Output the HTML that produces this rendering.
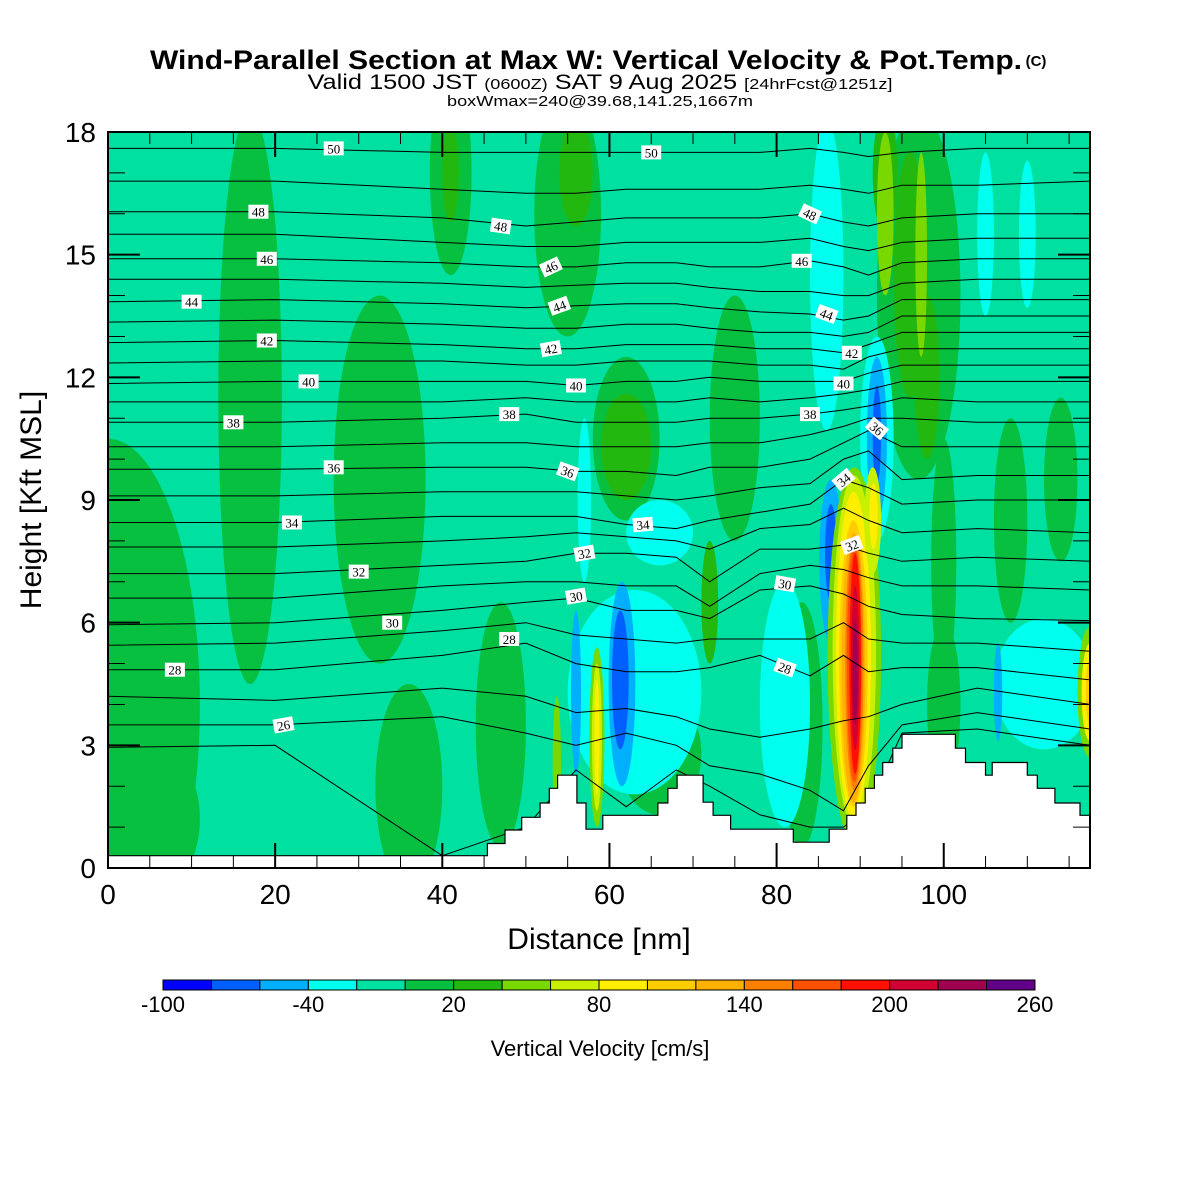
<!DOCTYPE html>
<html><head><meta charset="utf-8"><style>
body{margin:0;background:#fff}
svg{display:block;font-family:"Liberation Sans",sans-serif}
</style></head><body>
<svg id="chart" width="1200" height="1200" viewBox="0 0 1200 1200" xmlns="http://www.w3.org/2000/svg">
<rect width="1200" height="1200" fill="#fff"/>
<text x="586" y="69" text-anchor="middle" font-size="27" font-weight="bold" textLength="872" lengthAdjust="spacingAndGlyphs">Wind-Parallel Section at Max W: Vertical Velocity &amp; Pot.Temp.</text>
<text x="1036" y="66" text-anchor="middle" font-size="15" font-weight="bold">(C)</text>
<text x="600" y="89" text-anchor="middle" font-size="21" textLength="585" lengthAdjust="spacingAndGlyphs">Valid 1500 JST <tspan font-size="15">(0600Z)</tspan> SAT 9 Aug 2025 <tspan font-size="15">[24hrFcst@1251z]</tspan></text>
<text x="600" y="106" text-anchor="middle" font-size="15" textLength="306" lengthAdjust="spacingAndGlyphs">boxWmax=240@39.68,141.25,1667m</text>
<defs><clipPath id="plotclip"><rect x="108" y="132" width="982" height="736"/></clipPath></defs>
<g id="field" clip-path="url(#plotclip)"></g>
<g id="isentropes" clip-path="url(#plotclip)"></g>
<g id="terrain" clip-path="url(#plotclip)"></g>
<g id="labels" clip-path="url(#plotclip)"></g>
<g id="axes"></g>
<g id="colorbar"></g>
<text x="599" y="949" text-anchor="middle" font-size="30">Distance [nm]</text>
<text transform="translate(41,500) rotate(-90)" text-anchor="middle" font-size="30">Height [Kft MSL]</text>
<text x="600" y="1056" text-anchor="middle" font-size="22">Vertical Velocity [cm/s]</text>
</svg>
<script>
// ---- data ----
const xTicks=[0,20,40,60,80,100];
const yTicks=[0,3,6,9,12,15,18];
const cbLevels=[-100,-80,-60,-40,-20,0,20,40,60,80,100,120,140,160,180,200,220,240,260];
const cbLabels=[-100,-40,20,80,140,200,260];
const cbColors=["#0000ff","#0060ff","#00b0ff","#00ffee","#00e0a0","#08c040","#22b810","#78d800","#c8f000","#ffee00","#ffcc00","#ffb000","#ff8000","#ff5000","#ff1000","#d00030","#a00050","#600088"];
// velocity features: centre distance (nm), centre height (kft), half-width (nm), half-height (kft), w (cm/s)
const blobD=[0,4,36,17,32.5,41,55,62,47,100,108,114,97,75,66,83,100, 56,62,72,96,93,41,98, 86,92,63,81,112,57,105,110,66, 61.5,86.5,92,56,106.5, 61.3,86.5,92, 89.3,89.3,89.2,89.2,89.2,89.3,89.3,89.4,89.4,89.4, 91.5,91.6, 58.5,58.5,58.5,53.7, 117.5,117.5,117.5, 93,97.3];
const blobH=[4,1.2,2,11.5,9.5,17,16,10.5,3.5,7.5,8.5,9.5,14,11,2.8,3.5,4, 17,10.3,6.5,14.5,17,17,12, 14.5,10.5,4.3,4,4.5,9,15.5,15.5,8.2, 4.5,7.5,10.5,4.3,4.3, 4.6,7.7,10.6, 5.2,5.3,5.2,5.0,4.9,5.0,5.0,5.0,4.9,4.8, 8.5,8.6, 3.2,3.2,3.2,2.6, 4.3,4.3,4.3, 16,15];
const blobRx=[11,7,4,3.8,5.5,2.5,4,4,3,1.5,2,2,5,3,5,2.5,2, 2,3,1,2,1.5,1,1.5, 2,2,8,3,6,0.8,1,1,4, 1.6,1.4,1.2,0.6,0.5, 1,0.7,0.5, 3.2,2.6,2.1,1.7,1.4,1.1,0.9,0.7,0.5,0.3, 1,0.5, 0.9,0.6,0.3,0.5, 1.5,1,0.5, 1,0.7];
const blobRy=[6.5,2,2.5,7,4.5,2.5,3,2,3,3,2.5,2,4.5,3,1.5,3,2, 1.3,1.3,1.5,3,1.5,1.2,2, 3.8,2.5,2.5,3,1.6,2,2,1.8,0.8, 2.5,2,2,2,1.2, 1.7,1.2,1.2, 4.6,4.3,4.0,3.5,3.3,3.1,2.9,2.7,2.0,1.3, 1.3,0.8, 2.2,1.8,1.4,1.6, 1.6,1.2,0.8, 2,2.5];
const blobW=[10,10,10,10,10,10,10,10,10,10,10,10,10,10,10,10,10, 30,30,30,30,30,30,30, -30,-30,-30,-30,-30,-30,-30,-30,-30, -50,-50,-50,-50,-50, -70,-70,-70, 50,70,90,110,130,150,170,190,210,230, 70,90, 50,70,90,50, 50,90,110, 50,50];
// terrain steps: start distance (nm), height (kft)
const terrD=[0,45.4,47.5,49.5,51.7,52.8,53.8,56.1,57.2,59.2,65.8,67.0,68.1,71.2,72.4,74.5,82.0,86.3,88.4,89.5,90.6,91.7,92.7,93.9,95.0,101.4,102.6,105.0,105.8,110.0,111.2,113.3,116.3];
const terrH=[0.3,0.6,0.93,1.24,1.59,1.95,2.27,1.59,0.95,1.29,1.59,1.95,2.27,1.61,1.29,0.95,0.63,0.95,1.29,1.59,1.95,2.27,2.58,2.93,3.27,2.93,2.58,2.27,2.58,2.27,1.95,1.59,1.29];
// potential temperature lines: heights (kft) at thetaNodes
const thetaNodes=[0,20,40,50,56,62,68,72,78,84,88,91,95,104,117.5];
const thetaLevels=[25,26,27,28,29,30,31,32,33,34,35,36,37,38,39,40,41,42,43,44,45,46,47,48,49,50];
const th25=[2.95,3.0,0.3,1.0,2.4,1.5,2.4,2.0,1.3,1.0,1.0,1.5,3.3,3.4,3.0];
const th26=[3.5,3.5,3.7,3.3,3.0,3.3,3.0,2.5,2.3,1.9,1.4,2.5,3.5,3.8,3.4];
const th27=[4.2,4.1,4.4,4.2,3.8,3.9,3.7,3.4,3.2,3.4,3.6,3.7,4.0,4.4,4.0];
const th28=[4.85,4.85,5.2,5.5,5.0,4.8,4.8,4.9,5.2,4.7,5.2,4.8,4.9,4.9,4.6];
const th29=[5.45,5.5,5.8,6.0,5.7,5.6,5.5,5.6,5.6,5.6,6.0,5.6,5.5,5.5,5.3];
const th30=[5.95,6.0,6.3,6.5,6.6,6.3,6.3,6.1,6.8,6.9,6.7,6.4,6.2,6.1,6.05];
const th31=[6.6,6.6,6.9,7.0,7.0,6.9,6.9,6.4,7.2,7.4,7.3,7.1,6.9,6.9,6.8];
const th32=[7.2,7.2,7.4,7.5,7.7,7.7,7.6,7.0,7.8,7.8,7.9,7.7,7.5,7.6,7.5];
const th33=[7.85,7.85,8.0,8.1,8.2,8.1,8.0,7.8,8.3,8.4,8.8,8.5,8.2,8.3,8.2];
const th34=[8.45,8.45,8.6,8.6,8.6,8.4,8.3,8.5,8.7,8.9,9.5,9.3,8.9,9.0,9.0];
const th35=[9.1,9.1,9.2,9.2,9.2,9.1,9.0,9.1,9.3,9.4,10.0,10.2,9.5,9.6,9.6];
const th36=[9.75,9.75,9.8,9.8,9.7,9.7,9.6,9.8,9.8,10.0,10.4,10.7,10.3,10.3,10.3];
const th37=[10.3,10.3,10.4,10.4,10.3,10.3,10.3,10.4,10.4,10.6,10.8,11.0,11.0,10.9,10.9];
const th38=[10.9,10.9,11.0,11.1,10.9,10.9,10.9,11.0,11.0,11.1,11.2,11.3,11.5,11.4,11.4];
const th39=[11.4,11.4,11.4,11.5,11.4,11.4,11.4,11.5,11.4,11.5,11.6,11.7,11.9,11.9,11.9];
const th40=[11.85,11.9,11.9,11.9,11.8,11.9,11.9,12.0,11.9,11.9,11.9,12.1,12.3,12.3,12.3];
const th41=[12.35,12.4,12.4,12.3,12.3,12.4,12.4,12.4,12.3,12.3,12.2,12.5,12.7,12.7,12.7];
const th42=[12.85,12.9,12.8,12.7,12.7,12.8,12.8,12.8,12.7,12.7,12.6,12.8,13.1,13.1,13.1];
const th43=[13.35,13.4,13.3,13.2,13.2,13.3,13.3,13.2,13.1,13.1,13.0,13.1,13.5,13.5,13.5];
const th44=[13.85,13.9,13.8,13.7,13.75,13.8,13.8,13.7,13.6,13.55,13.4,13.5,13.9,13.9,13.9];
const th45=[14.4,14.4,14.3,14.2,14.25,14.3,14.3,14.2,14.1,14.1,14.0,14.0,14.3,14.4,14.4];
const th46=[14.9,14.9,14.8,14.7,14.7,14.8,14.8,14.7,14.7,14.85,14.7,14.5,14.8,14.9,14.9];
const th47=[15.5,15.5,15.3,15.2,15.2,15.3,15.3,15.3,15.3,15.4,15.2,15.1,15.3,15.4,15.4];
const th48=[16.05,16.05,15.9,15.7,15.8,15.9,15.9,15.9,15.9,16.0,15.8,15.7,15.9,16.0,16.0];
const th49=[16.8,16.8,16.6,16.5,16.5,16.6,16.6,16.6,16.6,16.7,16.6,16.5,16.7,16.7,16.8];
const th50=[17.6,17.6,17.5,17.5,17.5,17.5,17.5,17.5,17.5,17.6,17.5,17.4,17.5,17.6,17.6];
const thetaHeights=[th25,th26,th27,th28,th29,th30,th31,th32,th33,th34,th35,th36,th37,th38,th39,th40,th41,th42,th43,th44,th45,th46,th47,th48,th49,th50];
// contour labels
const lblText=[50,50,48,48,48,46,46,46,44,44,44,42,42,42,40,40,40,38,38,38,36,36,36,34,34,34,32,32,32,30,30,30,28,28,28,26];
const lblD=[27,65,18,47,84,19,53,83,10,54,86,19,53,89,24,56,88,15,48,84,27,55,92,22,64,88,30,57,89,34,56,81,8,48,81,21];
const lblH=[17.6,17.5,16.05,15.7,16.0,14.9,14.7,14.85,13.85,13.75,13.55,12.9,12.7,12.6,11.9,11.8,11.85,10.9,11.1,11.1,9.8,9.7,10.75,8.45,8.4,9.5,7.25,7.7,7.9,6.0,6.65,6.95,4.85,5.6,4.9,3.5];
const lblRot=[0,0,0,8,25,0,-25,0,0,-20,20,0,-10,0,0,0,0,0,0,0,0,20,40,0,-5,-40,0,-10,-20,0,-10,10,0,0,20,-10];

// ---- scales ----
const X0=108,X1=1090,Y0=868,Y1=132,DMAX=117.5,HMAX=18;
const sx=d=>X0+d*(X1-X0)/DMAX;
const sy=h=>Y0-h*(Y0-Y1)/HMAX;
const NS="http://www.w3.org/2000/svg";
function mk(tag,parent,attrs){const e=document.createElementNS(NS,tag);for(const k in attrs)e.setAttribute(k,attrs[k]);parent.appendChild(e);return e;}
function colorFor(w){for(let i=0;i<cbColors.length;i++){if(w<cbLevels[i+1])return cbColors[i];}return cbColors[cbColors.length-1];}

// field
const field=document.getElementById('field');
const bg=mk('rect',field,{x:X0,y:Y1,width:X1-X0,height:Y0-Y1,fill:colorFor(-10)});


for(let i=0;i<blobD.length;i++){
  const e=mk('ellipse',field,{cx:sx(blobD[i]),cy:sy(blobH[i]),rx:sx(blobRx[i])-X0,ry:Y0-sy(blobRy[i]),fill:colorFor(blobW[i])});
  
  
}
// isentropes
const iso=document.getElementById('isentropes');
for(let k=0;k<thetaLevels.length;k++){
  const pts=thetaNodes.map((d,j)=>sx(d).toFixed(1)+','+sy(thetaHeights[k][j]).toFixed(1)).join(' ');
  const p=mk('polyline',iso,{points:pts,fill:'none',stroke:'#000','stroke-width':1});
  
  
}
// terrain
const ter=document.getElementById('terrain');
let tp='M'+sx(0)+','+Y0;
for(let i=0;i<terrD.length;i++){
  const xe=i+1<terrD.length?terrD[i+1]:DMAX;
  tp+=' L'+sx(terrD[i]).toFixed(1)+','+sy(terrH[i]).toFixed(1)+' L'+sx(xe).toFixed(1)+','+sy(terrH[i]).toFixed(1);
}
tp+=' L'+X1+','+Y0+' Z';
const tpath=mk('path',ter,{d:tp,fill:'#fff',stroke:'#000','stroke-width':1.2});


// labels
const lg=document.getElementById('labels');
for(let i=0;i<lblText.length;i++){
  const g=mk('g',lg,{transform:'translate('+sx(lblD[i]).toFixed(1)+','+sy(lblH[i]).toFixed(1)+') rotate('+lblRot[i]+')'});
  
  
  mk('rect',g,{x:-10,y:-7,width:20,height:14,fill:'#fff'});
  const t=mk('text',g,{x:0,y:5,'text-anchor':'middle','font-size':13,'font-family':'"Liberation Serif",serif'});
  t.textContent=lblText[i];
}
// axes
const ax=document.getElementById('axes');
const frame=mk('rect',ax,{x:X0,y:Y1,width:X1-X0,height:Y0-Y1,fill:'none',stroke:'#000','stroke-width':2});


for(let d=5;d<DMAX;d+=5){
  const major=d%20===0, L=major?25:12;
  mk('line',ax,{x1:sx(d),y1:Y0,x2:sx(d),y2:Y0-L,stroke:'#000','stroke-width':major?2:1});
  mk('line',ax,{x1:sx(d),y1:Y1,x2:sx(d),y2:Y1+L,stroke:'#000','stroke-width':major?2:1});
}
for(let h=1;h<HMAX;h++){
  if(h%3===0)continue;
  mk('line',ax,{x1:X0,y1:sy(h),x2:X0+17,y2:sy(h),stroke:'#000','stroke-width':1});
  mk('line',ax,{x1:X1,y1:sy(h),x2:X1-17,y2:sy(h),stroke:'#000','stroke-width':1});
}
xTicks.forEach(v=>{
  const t=mk('text',ax,{x:sx(v),y:904,'text-anchor':'middle','font-size':28});
  
  
  t.textContent=v;
});
yTicks.forEach(v=>{
  if(v>0&&v<18){
    mk('line',ax,{x1:X0,y1:sy(v),x2:X0+32,y2:sy(v),stroke:'#000','stroke-width':2});
    mk('line',ax,{x1:X1,y1:sy(v),x2:X1-32,y2:sy(v),stroke:'#000','stroke-width':2});
  }
  const t=mk('text',ax,{x:96,y:sy(v)+10,'text-anchor':'end','font-size':28});
  
  
  t.textContent=v;
});
// colorbar
const cb=document.getElementById('colorbar');
const CBX0=163,CBX1=1035,CBY=980,CBH=10;
const bw=(CBX1-CBX0)/cbColors.length;
cbColors.forEach((c,i)=>{
  const r=mk('rect',cb,{x:CBX0+i*bw,y:CBY,width:bw,height:CBH,fill:c,stroke:'#000','stroke-width':1});
  
  
});
cbLabels.forEach(v=>{
  const i=cbLevels.indexOf(v);
  const t=mk('text',cb,{x:CBX0+i*bw,y:1012,'text-anchor':'middle','font-size':22});
  
  
  t.textContent=v;
});
</script>
</body></html>
